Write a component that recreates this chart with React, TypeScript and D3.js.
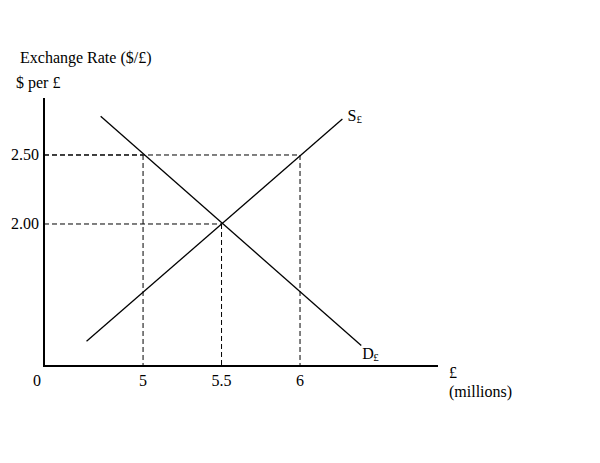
import { useEffect, useRef } from 'react'
import * as d3 from 'd3'

// price (y) ticks and quantity (x) ticks of the schematic
const PRICE_TICKS = [2.0, 2.5]
const PRICE_LABELS = ['2.00', '2.50']
const QTY_TICKS = [5, 5.5, 6]
const QTY_LABELS = ['5', '5.5', '6']

// curve endpoints [quantity, price]
const SUPPLY: [number, number][] = [[4.64, 1.15], [6.27, 2.76]]
const DEMAND: [number, number][] = [[4.73, 2.78], [6.39, 1.12]]

// dashed guide points: quantity at which each price meets a curve
const GUIDES: [number, number][] = [[5, 2.5], [6, 2.5], [5.5, 2.0]]

const FONT = '"Liberation Serif", "DejaVu Serif", serif'

export default function App() {
  const svgRef = useRef<SVGSVGElement>(null)

  useEffect(() => {
    if (!svgRef.current) return
    const svg = d3.select(svgRef.current)
    svg.selectAll('*').remove()

    const x = d3.scaleLinear().domain([4.369, 6.879]).range([44, 438])
    const y = d3.scaleLinear().domain([0.971, 2.913]).range([366, 98])
    const x0 = x.range()[0]
    const y0 = y.range()[0]

    const g = svg.append('g')

    // dashed guides
    GUIDES.forEach(([q, p]) => {
      g.append('line').attr('x1', x0).attr('x2', x(q))
        .attr('y1', y(p)).attr('y2', y(p))
        .attr('stroke', '#000').attr('stroke-width', 1).attr('stroke-dasharray', '5 3')
      g.append('line').attr('x1', x(q)).attr('x2', x(q))
        .attr('y1', y(p)).attr('y2', y0)
        .attr('stroke', '#000').attr('stroke-width', 1).attr('stroke-dasharray', '5 3')
    })

    // curves
    const line = d3.line<[number, number]>().x((d) => x(d[0])).y((d) => y(d[1]))
    ;[SUPPLY, DEMAND].forEach((c) => {
      g.append('path').datum(c).attr('d', line)
        .attr('fill', 'none').attr('stroke', '#000').attr('stroke-width', 1.3)
    })

    // axes
    g.append('line').attr('x1', x0).attr('x2', x0).attr('y1', y.range()[1]).attr('y2', y0 + 1)
      .attr('stroke', '#000').attr('stroke-width', 2)
    g.append('line').attr('x1', x0 - 1).attr('x2', x.range()[1]).attr('y1', y0).attr('y2', y0)
      .attr('stroke', '#000').attr('stroke-width', 2)

    const txt = (tx: number, ty: number, s: string, anchor = 'start', size = 16) =>
      g.append('text').attr('x', tx).attr('y', ty).attr('text-anchor', anchor)
        .attr('font-family', FONT).attr('font-size', size).attr('fill', '#000').text(s)

    PRICE_TICKS.forEach((p, i) => txt(39, y(p) + 5, PRICE_LABELS[i], 'end'))
    QTY_TICKS.forEach((q, i) => txt(x(q), 386, QTY_LABELS[i], 'middle'))
    txt(37, 386, '0', 'middle')

    txt(20, 63, 'Exchange Rate ($/£)')
    txt(16, 88, '$ per £')
    txt(449, 378, '£')
    txt(449, 397, '(millions)')

    // curve labels
    const sEnd = SUPPLY[1]
    const dEnd = DEMAND[1]
    txt(x(sEnd[0]) + 5, y(sEnd[1]) + 2, 'S')
    txt(x(sEnd[0]) + 14, y(sEnd[1]) + 4, '£', 'start', 11)
    txt(x(dEnd[0]) + 1, y(dEnd[1]) + 14, 'D')
    txt(x(dEnd[0]) + 12, y(dEnd[1]) + 16, '£', 'start', 11)

    return () => { svg.selectAll('*').remove() }
  }, [])

  return (
    <svg ref={svgRef} width={600} height={463}
      style={{ position: 'absolute', left: 0, top: 0, background: '#fff' }} />
  )
}
